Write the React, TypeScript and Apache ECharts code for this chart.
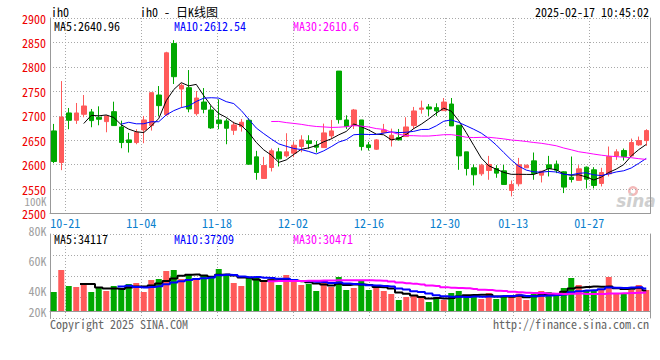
import { useEffect, useRef } from 'react';
import * as echarts from 'echarts';

const dates = [
  '10-17', '10-18',
  '10-21', '10-22', '10-23', '10-24', '10-25',
  '10-28', '10-29', '10-30', '10-31', '11-01',
  '11-04', '11-05', '11-06', '11-07', '11-08',
  '11-11', '11-12', '11-13', '11-14', '11-15',
  '11-18', '11-19', '11-20', '11-21', '11-22',
  '11-25', '11-26', '11-27', '11-28', '11-29',
  '12-02', '12-03', '12-04', '12-05', '12-06',
  '12-09', '12-10', '12-11', '12-12', '12-13',
  '12-16', '12-17', '12-18', '12-19', '12-20',
  '12-23', '12-24', '12-25', '12-26', '12-27',
  '12-30', '12-31', '01-02', '01-03',
  '01-06', '01-07', '01-08', '01-09', '01-10',
  '01-13', '01-14', '01-15', '01-16', '01-17',
  '01-20', '01-21', '01-22', '01-23', '01-24',
  '01-27', '02-05', '02-06', '02-07',
  '02-10', '02-11', '02-12', '02-13', '02-14',
];

const opens = [
  2669, 2604.3, 2705.7, 2690.7, 2703, 2707.8, 2696.9, 2688, 2708.4, 2677.1,
  2650.6, 2645.2, 2671, 2679.9, 2742.4, 2702.3, 2847.9, 2754.7, 2757.4, 2704.3,
  2728.1, 2711.8, 2691.4, 2689.4, 2670.3, 2677.8, 2690.7, 2615.9, 2571.7, 2594.1,
  2626.1, 2617.9, 2623.4, 2637, 2648.6, 2639.7, 2634.9, 2658.8, 2791.4, 2691.4,
  2679.9, 2691.4, 2640.4, 2631.5, 2665.6, 2650.6, 2655.4, 2657.4, 2679.9, 2713.2,
  2718, 2716.6, 2710.5, 2724, 2680.5, 2626.1, 2593.5, 2581.2, 2588, 2592.1,
  2587.3, 2547.2, 2560.8, 2593.5, 2607.7, 2578.5, 2599.6, 2601, 2585.3, 2574.4,
  2567.6, 2594.8, 2589.4, 2561.5, 2581.2, 2617.9, 2628.8, 2617.9, 2640.4, 2649.2,
];
const closes = [
  2606.4, 2697.5, 2690.7, 2705.7, 2720, 2690, 2692.8, 2699.6, 2679.9, 2645.2,
  2645.2, 2666.2, 2691.4, 2747.2, 2720.7, 2828.8, 2779.9, 2762.2, 2713.9, 2736.3,
  2713.2, 2675.1, 2683.9, 2674.4, 2681.2, 2686.7, 2600.9, 2583.9, 2598.2, 2628.2,
  2611.8, 2626.1, 2639.7, 2650.6, 2643.1, 2635.6, 2664.9, 2669, 2692.1, 2677.8,
  2711.8, 2637, 2634.9, 2650.6, 2671, 2660.1, 2650.6, 2677.1, 2709.8, 2715.9,
  2713.9, 2709.8, 2728.1, 2679.2, 2617.9, 2592.1, 2579.2, 2598.9, 2600.3, 2582.6,
  2559.4, 2559.4, 2599.6, 2598.9, 2581.9, 2586.6, 2592.1, 2588.7, 2554, 2569.6,
  2591.4, 2570.3, 2557.4, 2583.9, 2616.6, 2626.1, 2616.6, 2645.2, 2649.2, 2669.6,
];
const lows = [
  2603, 2588.7, 2672.4, 2683.3, 2696.9, 2676.5, 2680.5, 2666.2, 2679, 2633.6,
  2624.8, 2641.7, 2643.8, 2669.6, 2699.6, 2699.6, 2764.9, 2717.3, 2707.1, 2700.3,
  2705, 2673, 2672.4, 2641.7, 2660.8, 2667.6, 2599.6, 2569, 2571.7, 2586,
  2596.2, 2614.5, 2615.2, 2625.4, 2632.2, 2624.8, 2634.9, 2652.6, 2683.9, 2673,
  2673, 2628.8, 2628.8, 2630, 2663.5, 2637, 2650, 2657.4, 2673, 2704.3,
  2699.6, 2699.6, 2710.5, 2679.2, 2589.4, 2577.8, 2557.4, 2577.1, 2569, 2573.1,
  2559.4, 2535, 2555.4, 2593.5, 2569, 2563.5, 2575.8, 2582.6, 2541.8, 2563.5,
  2567.6, 2551.3, 2551.3, 2555.4, 2575.8, 2609.8, 2608.4, 2617.9, 2638.4, 2638.4,
];
const highs = [
  2683.3, 2771, 2715.9, 2726.1, 2742.4, 2713.9, 2719.3, 2701, 2728.8, 2690,
  2665, 2672.4, 2699.6, 2747.2, 2760.8, 2830.9, 2854.7, 2766.3, 2793.5, 2750.6,
  2756.7, 2720.7, 2733.6, 2694, 2688, 2693.5, 2694.8, 2628.2, 2615.9, 2632.9,
  2634.3, 2664.2, 2646.5, 2660.1, 2660.1, 2648.6, 2683.9, 2691.4, 2791.4, 2700.9,
  2713.9, 2691.4, 2646.5, 2652, 2683.3, 2673.7, 2673, 2696.9, 2718, 2730.9,
  2724, 2725.4, 2736.3, 2736.3, 2680.5, 2626.1, 2600.3, 2601.6, 2617.9, 2598.9,
  2599.6, 2567.6, 2613.8, 2599.6, 2624.8, 2586.6, 2617.9, 2608.4, 2586.6, 2616.6,
  2598.9, 2596.2, 2594.8, 2593.5, 2637, 2631.5, 2632.9, 2653.3, 2657.4, 2672.4,
];
const volumes = [
  31350, 67650, 41250, 39600, 42900, 31350, 37950, 33000, 41250, 37950,
  44550, 46200, 31350, 51150, 52800, 66000, 67650, 52800, 59400, 54450,
  57750, 57750, 69300, 61050, 46200, 41250, 56100, 56100, 47850, 52800,
  42900, 59400, 47850, 42900, 44550, 33000, 51150, 39600, 56100, 34650,
  37950, 51150, 34650, 39600, 33000, 28050, 18150, 23100, 24750, 21450,
  14850, 23100, 18150, 29700, 33000, 26400, 24750, 19800, 29700, 19800,
  24750, 23100, 28600, 18150, 28050, 33000, 31350, 28050, 37950, 54450,
  42900, 34650, 33000, 34650, 56100, 29700, 28050, 34650, 42900, 34650,
];

const xLabelDates = ['10-21', '11-04', '11-18', '12-02', '12-16', '12-30', '01-13', '01-27'];
const volTickLabels = ['100K', '80K', '60K', '40K', '20K'];
const priceLegend = ['MA5:2640.96', 'MA10:2612.54', 'MA30:2610.6'];
const volLegend = ['MA5:34117', 'MA10:37209', 'MA30:30471'];
const headerTexts = ['ih0', 'ih0 - 日K线图', '2025-02-17 10:45:02'];
const footerTexts = ['Copyright 2025 SINA.COM', 'http://finance.sina.com.cn'];

const RED = '#ff5a5a';
const GREEN = '#00a800';
const GRID = '#a8a8a8';
const AXIS = '#999999';
const MA_COLORS = ['#000000', '#0000ff', '#ff00ff'];
const FONT = '"Noto Sans Mono CJK SC", "DejaVu Sans Mono", monospace';

function movingAvg(src: number[], n: number): (number | null)[] {
  return src.map((_, i) => {
    if (i < n - 1) return null;
    let s = 0;
    for (let k = i - n + 1; k <= i; k++) s += src[k];
    return +(s / n).toFixed(2);
  });
}

export default function App() {
  const ref = useRef<HTMLDivElement>(null);

  useEffect(() => {
    const chart = echarts.init(ref.current!, null, { renderer: 'svg' });
    const candles = dates.map((_, i) => [opens[i], closes[i], lows[i], highs[i]]);
    const volBars = volumes.map((v, i) => ({
      value: v,
      itemStyle: { color: closes[i] >= opens[i] ? RED : GREEN },
    }));
    const periods = [5, 10, 30];
    const showLabel = (_: number, v: string) => xLabelDates.includes(v);
    const dotted = { color: GRID, type: [1, 2] as any, width: 1 };

    const txt = (text: string, x: number, y: number, fill: string, align = 'left', size = 12) => ({
      type: 'text',
      x,
      y,
      silent: true,
      style: {
        text,
        fill,
        fontSize: size,
        lineHeight: size - 1,
        fontFamily: FONT,
        textAlign: align,
        textVerticalAlign: 'middle',
      },
    });

    const legendX = [54, 174, 293];
    const volLabelY = [200.5, 230.5, 260.5, 290.5, 311];

    const option: any = {
      animation: false,
      backgroundColor: '#ffffff',
      textStyle: { fontFamily: FONT },
      grid: [
        { left: 50, right: 10, top: 18, height: 195.5 },
        { left: 50, right: 10, top: 234, height: 84 },
      ],
      xAxis: [
        {
          type: 'category', gridIndex: 0, data: dates, boundaryGap: true,
          axisLine: { show: true, lineStyle: { color: AXIS } },
          axisTick: { show: false }, axisLabel: { show: false }, splitLine: { show: false },
        },
        {
          type: 'category', gridIndex: 0, data: dates, boundaryGap: false, position: 'bottom',
          axisLine: { show: false }, axisTick: { show: false },
          axisLabel: {
            interval: showLabel, color: '#0a7fce', fontSize: 12, fontFamily: FONT, margin: 3,
            lineHeight: 11, hideOverlap: false,
          },
          splitLine: { show: true, interval: showLabel, lineStyle: dotted },
        },
        {
          type: 'category', gridIndex: 1, data: dates, boundaryGap: true,
          axisLine: { show: true, lineStyle: { color: AXIS } },
          axisTick: { show: false }, axisLabel: { show: false }, splitLine: { show: false },
        },
        {
          type: 'category', gridIndex: 1, data: dates, boundaryGap: false, position: 'bottom',
          axisLine: { show: false }, axisTick: { show: false }, axisLabel: { show: false },
          splitLine: { show: true, interval: showLabel, lineStyle: dotted },
        },
      ],
      yAxis: [
        {
          type: 'value', gridIndex: 0, min: 2500, max: 2900, interval: 50, position: 'left',
          axisLine: { show: true, lineStyle: { color: AXIS } }, axisTick: { show: false },
          axisLabel: {
            color: '#ee0000', fontSize: 12, fontFamily: FONT, margin: 4, lineHeight: 11,
            formatter: (v: number) => String(v),
          },
          splitLine: { show: true, lineStyle: dotted },
        },
        {
          type: 'value', gridIndex: 0, min: 0, max: 1, position: 'right',
          axisLine: { show: true, lineStyle: { color: AXIS } }, axisTick: { show: false },
          axisLabel: { show: false }, splitLine: { show: false },
        },
        {
          type: 'value', gridIndex: 1, min: -11550, max: 127050, position: 'left',
          axisLine: { show: true, lineStyle: { color: AXIS } }, axisTick: { show: false },
          axisLabel: { show: false }, splitLine: { show: false },
        },
        {
          type: 'value', gridIndex: 1, min: 0, max: 4, interval: 1, position: 'right',
          axisLine: { show: true, lineStyle: { color: AXIS } }, axisTick: { show: false },
          axisLabel: { show: false }, splitLine: { show: true, lineStyle: dotted },
        },
      ],
      series: [
        {
          type: 'candlestick', xAxisIndex: 0, yAxisIndex: 0, data: candles, barWidth: 5,
          itemStyle: { color: RED, color0: GREEN, borderColor: RED, borderColor0: GREEN, borderWidth: 1 },
        },
        ...periods.map((p, k) => ({
          type: 'line', xAxisIndex: 0, yAxisIndex: 0, data: movingAvg(closes, p),
          symbol: 'none', lineStyle: { color: MA_COLORS[k], width: 1 }, z: 3,
        })),
        {
          type: 'bar', xAxisIndex: 2, yAxisIndex: 2, data: volBars, barWidth: 6,
        },
        ...periods.map((p, k) => ({
          type: 'line', xAxisIndex: 2, yAxisIndex: 2, data: movingAvg(volumes, p),
          symbol: 'none', step: 'middle', lineStyle: { color: MA_COLORS[k], width: 2 }, z: 3,
        })),
      ],
      graphic: [
        txt(headerTexts[0], 51, 11.5, '#000'),
        txt(headerTexts[1], 140, 11.5, '#000'),
        txt(headerTexts[2], 649, 11.5, '#000', 'right'),
        ...priceLegend.map((t, k) => txt(t, legendX[k], 25, MA_COLORS[k])),
        ...volLegend.map((t, k) => txt(t, legendX[k], 238.5, MA_COLORS[k])),
        ...volTickLabels.map((t, k) => txt(t, 46.5, volLabelY[k], '#a0a0a0', 'right', k === 0 ? 11 : 12)),
        txt(footerTexts[0], 50, 323, '#666', 'left'),
        txt(footerTexts[1], 649, 323, '#666', 'right'),
        {
          type: 'ring', silent: true, shape: { cx: 633, cy: 191, r: 5, r0: 2.5 },
          style: { fill: '#f3b9b9' }, z: 0,
        },
        {
          type: 'text', x: 636, y: 201, silent: true, z: 0,
          style: {
            text: 'sina', fill: '#cfcfcf', fontSize: 17, fontStyle: 'italic', fontWeight: 'bold',
            fontFamily: 'DejaVu Sans', textAlign: 'center', textVerticalAlign: 'middle',
          },
        },
      ],
    };

    chart.setOption(option);
    return () => chart.dispose();
  }, []);

  return (
    <div
      ref={ref}
      style={{ position: 'absolute', left: 0, top: 0, width: 660, height: 360, background: '#fff' }}
    />
  );
}
